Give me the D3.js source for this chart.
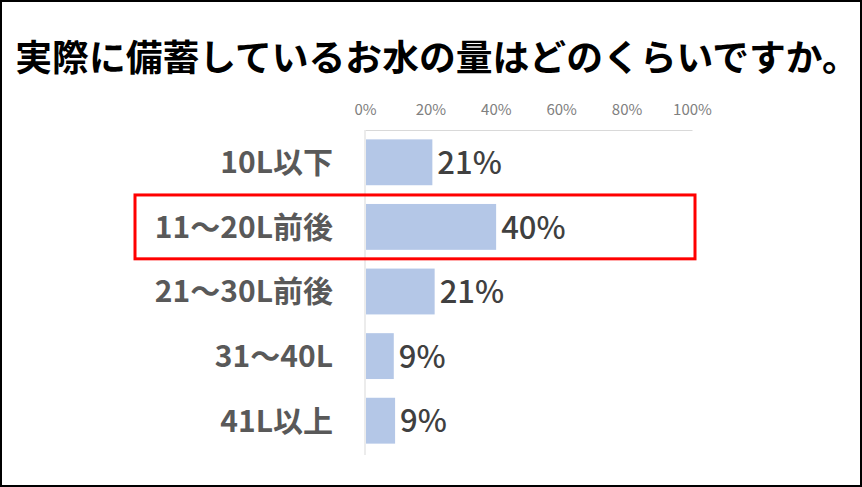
<!DOCTYPE html>
<html lang="ja">
<head>
<meta charset="UTF-8">
<script src="https://d3js.org/d3.v7.min.js"></script>
<style>
  body { margin: 0; background: #fff; }
  svg text { font-family: "Noto Sans CJK JP", "Noto Sans", sans-serif; }
</style>
</head>
<body>
<svg width="862" height="487"></svg>
<script>
var title = "実際に備蓄しているお水の量はどのくらいですか。";
var categories = ["10L以下", "11～20L前後", "21～30L前後", "31～40L", "41L以上"];
var values = [20.6, 40.1, 21.3, 8.8, 9.2];
var tickValues = [0, 20, 40, 60, 80, 100];
var highlight = "11～20L前後";

var svg = d3.select("svg"),
    width = +svg.attr("width"),
    height = +svg.attr("height");

var x = d3.scaleLinear().domain([0, 100]).range([365, 692]);
var y = d3.scaleBand().domain(categories).range([130, 453]).paddingInner(0.29).paddingOuter(0.145);

// outer frame
svg.append("rect")
    .attr("x", 1).attr("y", 1)
    .attr("width", width - 2).attr("height", height - 2)
    .attr("fill", "#fff").attr("stroke", "#000").attr("stroke-width", 2);

svg.append("text")
    .attr("x", 437).attr("y", 71)
    .attr("text-anchor", "middle")
    .attr("font-size", 36.8).attr("font-weight", "bold")
    .attr("fill", "#000")
    .text(title);

// top axis
var xAxis = svg.append("g")
    .attr("transform", "translate(0,130)")
    .call(d3.axisTop(x).tickValues(tickValues).tickSize(0).tickPadding(15)
        .tickFormat(function (d) { return d + "%"; }));
xAxis.select(".domain").attr("stroke", "#d9d9d9");
xAxis.selectAll("text").attr("font-size", 15).attr("fill", "#808080")
    .style("font-family", "\"Noto Sans CJK JP\", sans-serif");

// vertical category axis line
svg.append("line")
    .attr("x1", x(0)).attr("x2", x(0))
    .attr("y1", 130).attr("y2", 455)
    .attr("stroke", "#e6e6e6").attr("stroke-width", 1.5);

var rows = svg.append("g").selectAll("g")
    .data(categories)
    .join("g");

rows.append("rect")
    .attr("x", x(0) + 1)
    .attr("y", function (d) { return y(d); })
    .attr("width", function (d, i) { return x(values[i]) - x(0) - 1; })
    .attr("height", y.bandwidth())
    .attr("fill", "#b4c7e7");

rows.append("text")
    .attr("x", 333)
    .attr("y", function (d) { return y(d) + y.bandwidth() / 2; })
    .attr("dy", "0.36em")
    .attr("text-anchor", "end")
    .attr("font-size", 30).attr("font-weight", "bold")
    .attr("fill", "#595959")
    .text(function (d) { return d; });

rows.append("text")
    .attr("x", function (d, i) { return x(values[i]) + 5; })
    .attr("y", function (d) { return y(d) + y.bandwidth() / 2; })
    .attr("dy", "0.38em")
    .attr("font-size", 31).attr("font-weight", 500)
    .attr("fill", "#404040")
    .text(function (d, i) { return Math.round(values[i]) + "%"; });

// highlight box
svg.append("rect")
    .attr("x", 135)
    .attr("y", y(highlight) - 9)
    .attr("width", 560)
    .attr("height", y.bandwidth() + 18)
    .attr("fill", "none")
    .attr("stroke", "#ff0000").attr("stroke-width", 3);
</script>
</body>
</html>
